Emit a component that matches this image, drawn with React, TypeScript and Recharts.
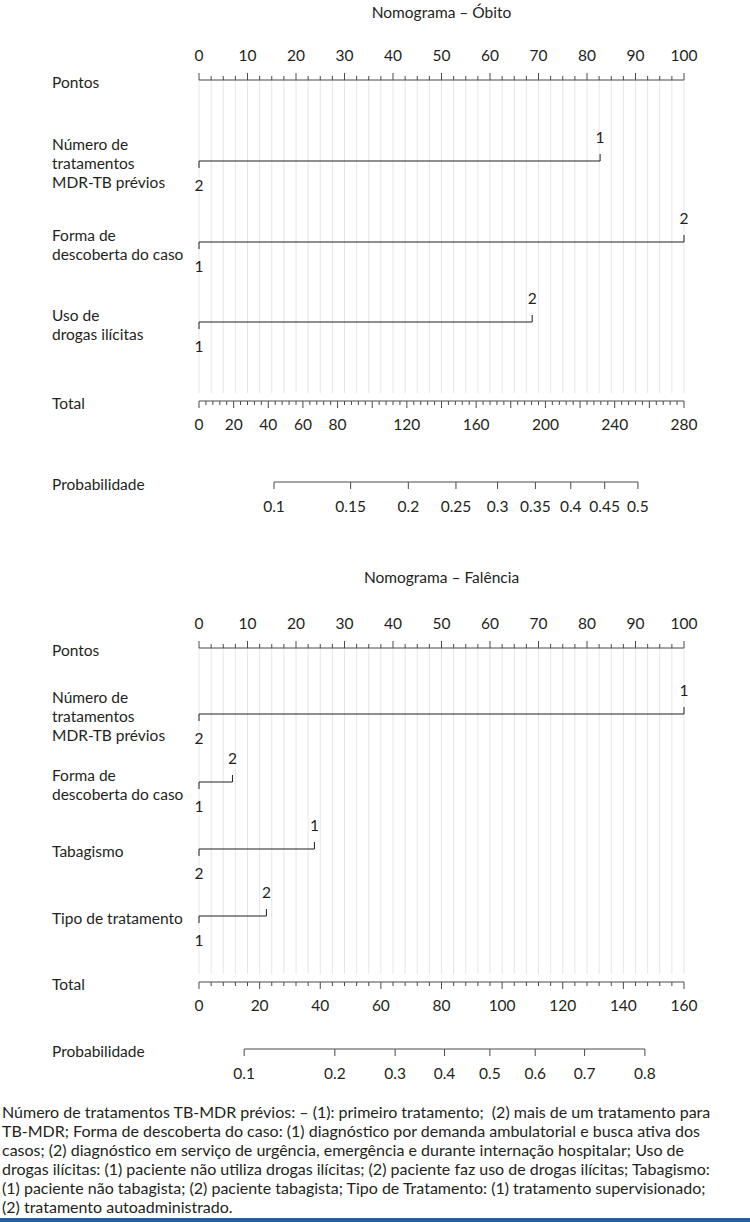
import React from 'react';
import { ComposedChart, XAxis, YAxis, Scatter, ReferenceLine } from 'recharts';

const FONT = 'Lato, "Open Sans", sans-serif';
const INK = '#231f20';
const AXIS = '#4a4a4a';
const GRID = '#e6e6e6';

// points scale shared by both nomograms
const pointLabels = [0, 10, 20, 30, 40, 50, 60, 70, 80, 90, 100];
const pointStep = 2.5;

// Óbito
const obitoVariables = ['Número de\ntratamentos\nMDR-TB prévios', 'Forma de\ndescoberta do caso', 'Uso de\ndrogas ilícitas'];
const obitoLowLevels = ['2', '1', '1'];
const obitoHighLevels = ['1', '2', '2'];
const obitoHighPoints = [82.7, 100, 68.7];
const obitoTotalMax = 280;
const obitoTotalLabels = [0, 20, 40, 60, 80, 120, 160, 200, 240, 280];
const obitoProbTicks = [0.1, 0.15, 0.2, 0.25, 0.3, 0.35, 0.4, 0.45, 0.5];
const obitoProbAnchors = [{ p: 0.1, total: 43.3 }, { p: 0.5, total: 253.4 }];

// Falência
const falenciaVariables = ['Número de\ntratamentos\nMDR-TB prévios', 'Forma de\ndescoberta do caso', 'Tabagismo', 'Tipo de tratamento'];
const falenciaLowLevels = ['2', '1', '2', '1'];
const falenciaHighLevels = ['1', '2', '1', '2'];
const falenciaHighPoints = [100, 6.9, 23.8, 13.9];
const falenciaTotalMax = 160;
const falenciaTotalLabels = [0, 20, 40, 60, 80, 100, 120, 140, 160];
const falenciaProbTicks = [0.1, 0.2, 0.3, 0.4, 0.5, 0.6, 0.7, 0.8];
const falenciaProbAnchors = [{ p: 0.1, total: 14.9 }, { p: 0.8, total: 147.1 }];

const captionLines = [
  'Número de tratamentos TB-MDR prévios: – (1): primeiro tratamento;  (2) mais de um tratamento para',
  'TB-MDR; Forma de descoberta do caso: (1) diagnóstico por demanda ambulatorial e busca ativa dos',
  'casos; (2) diagnóstico em serviço de urgência, emergência e durante internação hospitalar; Uso de',
  'drogas ilícitas: (1) paciente não utiliza drogas ilícitas; (2) paciente faz uso de drogas ilícitas; Tabagismo:',
  '(1) paciente não tabagista; (2) paciente tabagista; Tipo de Tratamento: (1) tratamento supervisionado;',
  '(2) tratamento autoadministrado.',
];

// vertical layout (offset of each row below the Pontos axis)
const obitoLayout = { rows: [81, 162, 242], total: 321, prob: 402 };
const falenciaLayout = { rows: [66, 134, 201, 268], total: 334, prob: 401 };

const logit = (p: number) => Math.log(p / (1 - p));
const steps = (max: number, step: number) => Array.from({ length: Math.round(max / step) + 1 }, (_, i) => i * step);

const txt = { fontFamily: FONT, fontSize: 15.5, fill: INK };

function PointsTick(props: any) {
  const { x, y, payload } = props;
  const v = payload.value;
  const major = pointLabels.includes(v);
  return (
    <g>
      <line x1={x} x2={x} y1={y} y2={y - (major ? 7 : 4)} stroke={AXIS} />
      {major && (
        <text x={x} y={y - 19} textAnchor="middle" {...txt}>{v}</text>
      )}
    </g>
  );
}

type NomoProps = {
  variables: string[];
  low: string[];
  high: string[];
  highPoints: number[];
  totalMax: number;
  totalLabels: number[];
  probTicks: number[];
  probAnchors: { p: number; total: number }[];
  layout: { rows: number[]; total: number; prob: number };
};

function Nomogram({ variables, low, high, highPoints, totalMax, totalLabels, probTicks, probAnchors, layout }: NomoProps) {
  const [a0, a1] = probAnchors;
  const slope = (logit(a1.p) - logit(a0.p)) / (a1.total - a0.total);
  const probLo = logit(a0.p) - slope * a0.total;
  const probHi = probLo + slope * totalMax;

  const rowLabels = new Map<number, string[]>();
  rowLabels.set(0, ['Pontos']);
  layout.rows.forEach((r, i) => rowLabels.set(r, variables[i].split('\n')));
  rowLabels.set(layout.total, ['Total']);
  rowLabels.set(layout.prob, ['Probabilidade']);

  const RowLabel = (props: any) => {
    const { y, payload } = props;
    const lines = rowLabels.get(payload.value) ?? [];
    const lh = 19;
    const start = y + 2 - ((lines.length - 1) * lh) / 2;
    return (
      <g>
        {lines.map((l, i) => (
          <text key={i} x={52} y={start + i * lh} dominantBaseline="central" {...txt}>{l}</text>
        ))}
      </g>
    );
  };

  const totalData = steps(totalMax, 4).map(v => ({ x: v, y: layout.total, v }));
  const probData = probTicks.map(p => ({ x: logit(p), y: layout.prob, p }));

  const TotalTick = (p: any) => {
    const v = p.payload.v;
    const major = v % 20 === 0;
    return (
      <g>
        <line x1={p.cx} x2={p.cx} y1={p.cy} y2={p.cy + (major ? 7 : 4)} stroke={AXIS} />
        {totalLabels.includes(v) && (
          <text x={p.cx} y={p.cy + 29} textAnchor="middle" {...txt}>{v}</text>
        )}
      </g>
    );
  };

  const ProbTick = (p: any) => (
    <g>
      <line x1={p.cx} x2={p.cx} y1={p.cy} y2={p.cy + 7} stroke={AXIS} />
      <text x={p.cx} y={p.cy + 30} textAnchor="middle" {...txt}>{String(p.payload.p)}</text>
    </g>
  );

  const LevelTick = (p: any) => {
    const up = p.payload.up;
    return (
      <g>
        <line x1={p.cx} x2={p.cx} y1={p.cy} y2={p.cy + (up ? -7 : 7)} stroke={INK} />
        <text x={p.cx} y={p.cy + (up ? -18 : 30)} textAnchor="middle" {...txt}>{p.payload.label}</text>
      </g>
    );
  };

  const gridTicks = steps(100, pointStep);

  return (
    <ComposedChart width={750} height={80 + layout.prob + 48} margin={{ top: 50, right: 66, bottom: 48, left: 0 }}>
      <XAxis
        xAxisId="pts"
        orientation="top"
        type="number"
        dataKey="x"
        domain={[0, 100]}
        ticks={gridTicks}
        interval={0}
        tickLine={false}
        tickSize={0}
        tickMargin={0}
        axisLine={{ stroke: AXIS }}
        tick={<PointsTick />}
      />
      <XAxis xAxisId="tot" type="number" dataKey="x" domain={[0, totalMax]} hide />
      <XAxis xAxisId="prob" type="number" dataKey="x" domain={[probLo, probHi]} hide />
      <YAxis
        type="number"
        dataKey="y"
        domain={[0, layout.prob]}
        reversed
        ticks={[0, ...layout.rows, layout.total, layout.prob]}
        interval={0}
        axisLine={false}
        tickLine={false}
        width={199}
        tick={<RowLabel />}
      />
      {gridTicks.map(v => (
        <ReferenceLine
          key={v}
          xAxisId="pts"
          segment={[{ x: v, y: 0 }, { x: v, y: layout.total - 8 }]}
          stroke={GRID}
          ifOverflow="visible"
        />
      ))}
      {layout.rows.map((r, i) => (
        <Scatter
          key={i}
          xAxisId="pts"
          data={[
            { x: 0, y: r, label: low[i], up: false },
            { x: highPoints[i], y: r, label: high[i], up: true },
          ]}
          line={{ stroke: INK, strokeWidth: 1 }}
          stroke={INK}
          shape={<LevelTick />}
          isAnimationActive={false}
        />
      ))}
      <Scatter
        xAxisId="tot"
        data={totalData}
        line={{ stroke: AXIS, strokeWidth: 1 }}
        stroke={AXIS}
        shape={<TotalTick />}
        isAnimationActive={false}
      />
      <Scatter
        xAxisId="prob"
        data={probData}
        line={{ stroke: AXIS, strokeWidth: 1 }}
        stroke={AXIS}
        shape={<ProbTick />}
        isAnimationActive={false}
      />
    </ComposedChart>
  );
}

const titleStyle: React.CSSProperties = {
  position: 'absolute',
  left: 199,
  width: 485,
  textAlign: 'center',
  fontFamily: FONT,
  fontSize: 15.5,
  lineHeight: '20px',
  color: INK,
};

export default function App() {
  return (
    <div style={{ position: 'absolute', left: 0, top: 0, width: 750, height: 1222, background: '#fff', overflow: 'hidden' }}>
      <div style={{ ...titleStyle, top: 2 }}>Nomograma – Óbito</div>
      <div style={{ position: 'absolute', left: 0, top: 0 }}>
        <Nomogram
          variables={obitoVariables}
          low={obitoLowLevels}
          high={obitoHighLevels}
          highPoints={obitoHighPoints}
          totalMax={obitoTotalMax}
          totalLabels={obitoTotalLabels}
          probTicks={obitoProbTicks}
          probAnchors={obitoProbAnchors}
          layout={obitoLayout}
        />
      </div>
      <div style={{ ...titleStyle, top: 567 }}>Nomograma – Falência</div>
      <div style={{ position: 'absolute', left: 0, top: 568 }}>
        <Nomogram
          variables={falenciaVariables}
          low={falenciaLowLevels}
          high={falenciaHighLevels}
          highPoints={falenciaHighPoints}
          totalMax={falenciaTotalMax}
          totalLabels={falenciaTotalLabels}
          probTicks={falenciaProbTicks}
          probAnchors={falenciaProbAnchors}
          layout={falenciaLayout}
        />
      </div>
      <div
        style={{
          position: 'absolute',
          left: 2,
          top: 1102,
          fontFamily: FONT,
          fontSize: 16,
          lineHeight: '19px',
          color: INK,
          whiteSpace: 'pre',
        }}
      >
        {captionLines.map((l, i) => (
          <div key={i}>{l}</div>
        ))}
      </div>
      <div style={{ position: 'absolute', left: 0, top: 1218, width: 750, height: 4, background: '#23609a' }} />
    </div>
  );
}
